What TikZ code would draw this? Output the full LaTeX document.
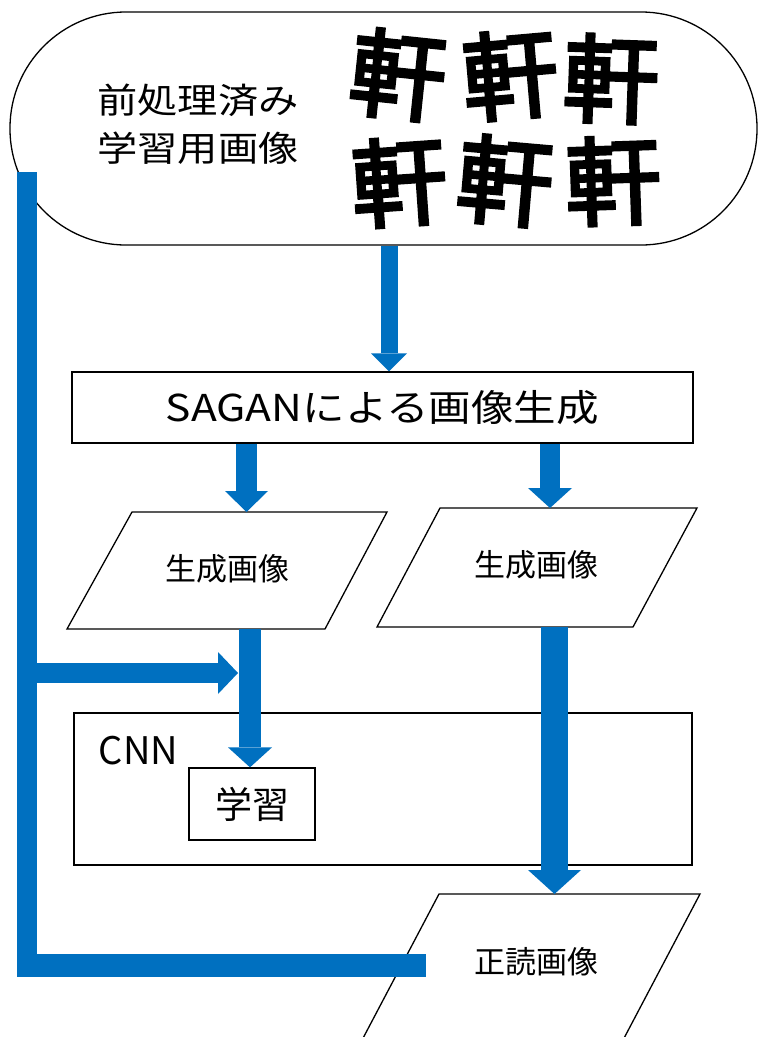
\documentclass[tikz,border=0pt]{standalone}
\usepackage{fontspec}
\usetikzlibrary{arrows.meta}
\setmainfont{Noto Sans CJK JP}
\newfontfamily\jp{Noto Sans CJK JP}
\newfontfamily\jpw[FakeStretch=1.15]{Noto Sans CJK JP}
\newfontfamily\brush[FakeBold=3.5]{Noto Sans CJK JP}
\definecolor{flowblue}{RGB}{0,112,192}
\tikzset{
  box/.style={draw=black, line width=1.3pt, inner sep=0pt},
  outline/.style={draw=black, line width=1.3pt, line join=miter},
  bluearrow/.style n args={3}{draw=flowblue, line width=#1, line cap=butt,
    -{Triangle[width=#2, length=#3, line width=0pt]}},
  bluebar/.style={draw=flowblue, line width=#1, line cap=butt},
  glyph/.style={inner sep=0pt, font=\brush\fontsize{96pt}{96pt}\selectfont}
}
\begin{document}
\begin{tikzpicture}[x=1pt, y=-1pt]
\useasboundingbox (0,0) rectangle (761,1037);
\clip (0,0) rectangle (761,1037);
\fill[white] (0,0) rectangle (761,1037);

% top terminator
\node[box, rounded corners=116pt, minimum width=747pt, minimum height=233pt] (top) at (383.5,128.5) {};
\node[align=center, font=\jpw\fontsize{35pt}{48pt}\selectfont] (lbl) at (198,124) {前処理済み\\学習用画像};
% handwritten samples
\node[glyph, rotate=-6] (c1) at (398,75) {軒};
\node[glyph, rotate=5] (c2) at (510,75) {軒};
\node[glyph, rotate=-2] (c3) at (611,79) {軒};
\node[glyph, rotate=4] (c4) at (399,182) {軒};
\node[glyph, rotate=-5] (c5) at (505,181) {軒};
\node[glyph, rotate=2] (c6) at (613,181) {軒};

% SAGAN box
\node[box, minimum width=621pt, minimum height=71pt, font=\jpw\fontsize{37pt}{40pt}\selectfont] (gan) at (382.5,407.5) {SAGANによる画像生成};

% left parallelogram
\draw[outline] (132,512) -- (387,512) -- (325,629) -- (67,629) -- cycle;
\node[font=\jp\fontsize{31pt}{34pt}\selectfont] (g1) at (227.5,568.5) {生成画像};
\coordinate (ltop) at (246.5,512);
\coordinate (lbot) at (250,629);
% right parallelogram
\draw[outline] (440,508) -- (697,508) -- (633,627) -- (377,627) -- cycle;
\node[font=\jp\fontsize{31pt}{34pt}\selectfont] (g2) at (536.5,565) {生成画像};
\coordinate (rtop) at (550,508);
\coordinate (rbot) at (554.5,627);

% CNN box
\node[box, minimum width=618pt, minimum height=152pt] (cnn) at (383,789) {};
\node[font=\jp\fontsize{38pt}{40pt}\selectfont] (cnnlbl) at (138.5,751) {CNN};
\node[box, minimum width=126pt, minimum height=72pt, font=\jp\fontsize{37pt}{40pt}\selectfont] (learn) at (252,804) {学習};

% bottom parallelogram
\draw[outline] (439,894) -- (700,894) -- (622,1042) -- (361,1042) -- cycle;
\node[font=\jp\fontsize{31pt}{34pt}\selectfont] (ok) at (536.5,962) {正読画像};
\coordinate (btop) at (554.5,894);

% arrows
\draw[bluearrow={17pt}{36pt}{18pt}] ([xshift=5.5pt]top.south) -- ([xshift=6.5pt]gan.north);
\draw[bluearrow={21pt}{43pt}{21pt}] (ltop |- gan.south) -- (ltop);
\draw[bluearrow={20pt}{44pt}{20pt}] (rtop |- gan.south) -- (rtop);
\draw[bluearrow={22pt}{44pt}{20pt}] (lbot) -- (lbot |- learn.north);
\draw[bluearrow={27pt}{53pt}{24pt}] (rbot) -- (btop);

% feedback bar from training images
\coordinate (lbtop) at (27,172);
\coordinate (lbbot) at (27,977);
\coordinate (join) at (25,673);
\coordinate (jtip) at (238,673);
\coordinate (bstart) at (17,965.5);
\coordinate (bend) at (426,965.5);
\draw[bluebar=20pt] (lbtop) -- (lbbot);
\draw[bluebar=23pt] (bstart) -- (bend);
\draw[bluearrow={20pt}{42pt}{20pt}] (join) -- (jtip);
\end{tikzpicture}
\end{document}
